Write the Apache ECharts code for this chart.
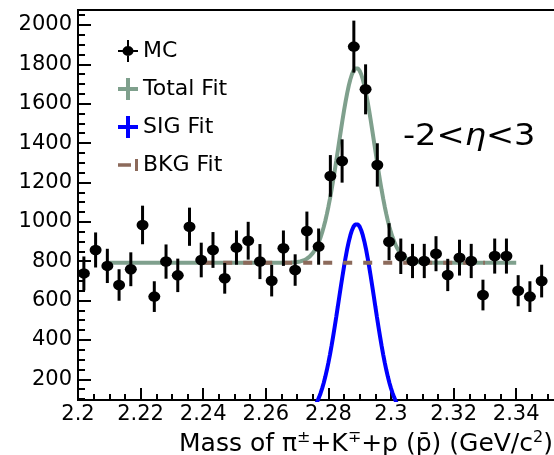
<!DOCTYPE html>
<html>
<head>
<meta charset="utf-8">
<script src="https://cdn.jsdelivr.net/npm/echarts@6/dist/echarts.min.js"></script>
<style>
  html, body { margin: 0; padding: 0; background: #fff; }
  #chart { width: 554px; height: 455px; }
</style>
</head>
<body>
<div id="chart"></div>
<script>
// Histogram bin centres (GeV/c^2), 40 bins of 3.75 MeV from 2.20 to 2.35
const binCentres = [
  2.201875, 2.205625, 2.209375, 2.213125, 2.216875, 2.220625, 2.224375, 2.228125,
  2.231875, 2.235625, 2.239375, 2.243125, 2.246875, 2.250625, 2.254375, 2.258125,
  2.261875, 2.265625, 2.269375, 2.273125, 2.276875, 2.280625, 2.284375, 2.288125,
  2.291875, 2.295625, 2.299375, 2.303125, 2.306875, 2.310625, 2.314375, 2.318125,
  2.321875, 2.325625, 2.329375, 2.333125, 2.336875, 2.340625, 2.344375, 2.348125
];
// MC candidate counts per bin
const counts = [
  738, 857, 776, 679, 759, 984, 620, 798, 728, 975,
  806, 857, 713, 869, 904, 798, 701, 866, 755, 953,
  874, 1233, 1309, 1890, 1673, 1289, 899, 825, 801, 801,
  838, 730, 818, 801, 628, 826, 826, 650, 620, 699
];
// Statistical uncertainty per bin
const countErrors = [
  86, 89, 87, 80, 86, 98, 78, 87, 85, 97,
  88, 91, 78, 87, 96, 89, 80, 90, 80, 99,
  92, 106, 110, 132, 127, 110, 94, 90, 87, 87,
  89, 82, 91, 87, 78, 89, 89, 79, 78, 83
];

// Fit result: Gaussian signal on a flat background
const fitRange = [2.21, 2.34];
const bkgRange = [2.24, 2.33];
const bkgLevel = 792;
const sigAmplitude = 990;
const sigMean = 2.289;
const sigWidth = 0.0057;

// Axis ticks
const xTicks = [2.2, 2.22, 2.24, 2.26, 2.28, 2.3, 2.32, 2.34];
const xTickLabels = ['2.2', '2.22', '2.24', '2.26', '2.28', '2.3', '2.32', '2.34'];
const yTicks = [200, 400, 600, 800, 1000, 1200, 1400, 1600, 1800, 2000];
const yTickLabels = ['200', '400', '600', '800', '1000', '1200', '1400', '1600', '1800', '2000'];

const xMin = 2.2, xMax = 2.35271;
const yMin = 94.8, yMax = 2076;

const xMinorTicks = [];
for (let k = 0; k <= 30; k++) xMinorTicks.push(+(2.2 + 0.005 * k).toFixed(3));
const yMinorTicks = [];
for (let v = 100; v <= 2050; v += 50) yMinorTicks.push(v);

const FONT = 'DejaVu Sans';
const GREEN = '#7fa08d';
const BLUE = '#0000ff';
const BROWN = '#8c6a5b';

function gauss(x) {
  const d = (x - sigMean) / sigWidth;
  return sigAmplitude * Math.exp(-0.5 * d * d);
}
// Sample fitted functions across the fit window
const totalCurve = [], sigCurve = [];
for (let i = 0; i <= 260; i++) {
  const x = fitRange[0] + (fitRange[1] - fitRange[0]) * i / 260;
  totalCurve.push([x, bkgLevel + gauss(x)]);
  sigCurve.push([x, gauss(x)]);
}
const bkgCurve = [[bkgRange[0], bkgLevel], [bkgRange[1], bkgLevel]];

const mcPoints = binCentres.map((x, i) => [x, counts[i]]);
const mcErrors = binCentres.map((x, i) => [x, counts[i] - countErrors[i], counts[i] + countErrors[i]]);

function labelFor(ticks, labels) {
  return v => {
    const i = ticks.findIndex(t => Math.abs(t - v) < 1e-6);
    return i >= 0 ? labels[i] : '';
  };
}

// Legend icons (drawn in a 20 x 22 box)
const corners = ' M0,0h0.01v0.01h-0.01z M19.99,21.99h0.01v0.01h-0.01z';
const iconMC = 'path://M0,10h20v2h-20z M9,0h2v22h-2z M4.5,11a5.5,5 0 1,1 11,0a5.5,5 0 1,1 -11,0z' + corners;
const iconFit = 'path://M0,9h20v4h-20z M8,0h4v22h-4z' + corners;
const iconBkg = 'path://M0,9.3h13v3.5h-13z M17,5h3v12h-3z' + corners;

const chart = echarts.init(document.getElementById('chart'), null, { renderer: 'canvas' });

const baseTick = { lineStyle: { color: '#000', width: 2 } };

chart.setOption({
  animation: false,
  backgroundColor: '#fff',
  grid: {
    left: 78, right: -2, top: 10, bottom: 55,
    outerBoundsMode: 'none',
    containLabel: false,
    show: true, borderColor: '#000', borderWidth: 2, backgroundColor: 'transparent'
  },
  xAxis: [
    {
      type: 'value', min: xMin, max: xMax, position: 'bottom',
      axisLine: { show: true, onZero: false, lineStyle: { color: '#000', width: 2 } },
      axisTick: Object.assign({ inside: true, length: 12, customValues: xTicks }, baseTick),
      axisLabel: {
        customValues: xTicks, formatter: labelFor(xTicks, xTickLabels),
        fontFamily: FONT, fontSize: 21, color: '#000', margin: 4
      },
      splitLine: { show: false },
      name: 'Mass of π{sup|±}+K{sup|∓}+p (p̄) (GeV/c{sup|2})',
      nameLocation: 'middle',
      nameGap: 27,
      nameTextStyle: {
        fontFamily: FONT, fontSize: 25, color: '#000', padding: [0, 0, 0, 98],
        lineHeight: 30,
        rich: {
          sup: { fontFamily: FONT, fontSize: 16, color: '#000', verticalAlign: 'top', lineHeight: 16 }
        }
      }
    },
    {
      type: 'value', min: xMin, max: xMax, position: 'bottom',
      axisLine: { show: false },
      axisTick: Object.assign({ inside: true, length: 6, customValues: xMinorTicks }, baseTick),
      axisLabel: { show: false },
      splitLine: { show: false }
    }
  ],
  yAxis: [
    {
      type: 'value', min: yMin, max: yMax, position: 'left',
      axisLine: { show: true, onZero: false, lineStyle: { color: '#000', width: 2 } },
      axisTick: Object.assign({ inside: true, length: 13, customValues: yTicks }, baseTick),
      axisLabel: {
        customValues: yTicks, formatter: labelFor(yTicks, yTickLabels),
        fontFamily: FONT, fontSize: 21, color: '#000', margin: 6
      },
      splitLine: { show: false }
    },
    {
      type: 'value', min: yMin, max: yMax, position: 'left',
      axisLine: { show: false },
      axisTick: Object.assign({ inside: true, length: 7, customValues: yMinorTicks }, baseTick),
      axisLabel: { show: false },
      splitLine: { show: false }
    }
  ],
  legend: {
    orient: 'vertical', left: 118, top: 40, padding: 0,
    itemWidth: 20, itemHeight: 22, itemGap: 16,
    selectedMode: false,
    textStyle: { fontFamily: FONT, fontSize: 22, color: '#000' },
    itemStyle: { borderWidth: 0 },
    data: [
      { name: 'MC', icon: iconMC, itemStyle: { color: '#000' } },
      { name: 'Total Fit', icon: iconFit, itemStyle: { color: GREEN } },
      { name: 'SIG Fit', icon: iconFit, itemStyle: { color: BLUE } },
      { name: 'BKG Fit', icon: iconBkg, itemStyle: { color: BROWN } }
    ]
  },
  graphic: [
    {
      type: 'text', x: 403, y: 137, scaleX: 1.12, z: 10,
      style: {
        text: '-2<{e|η}<3',
        fontFamily: FONT, fontSize: 30, fill: '#000',
        textAlign: 'left', textVerticalAlign: 'middle',
        rich: { e: { fontFamily: FONT, fontSize: 30, fontStyle: 'italic', fill: '#000' } }
      }
    }
  ],
  series: [
    {
      name: 'Total Fit', type: 'line', data: totalCurve, showSymbol: false, symbol: 'none',
      color: GREEN, lineStyle: { color: GREEN, width: 4 }, z: 2, clip: true
    },
    {
      name: 'SIG Fit', type: 'line', data: sigCurve, showSymbol: false, symbol: 'none',
      color: BLUE, lineStyle: { color: BLUE, width: 4 }, z: 2, clip: true
    },
    {
      name: 'BKG Fit', type: 'line', data: bkgCurve, showSymbol: false, symbol: 'none',
      color: BROWN, lineStyle: { color: BROWN, width: 4, type: [9, 11] }, z: 3, clip: true
    },
    {
      name: 'MC errors', type: 'custom', data: mcErrors, z: 4, clip: true,
      renderItem: (params, api) => {
        const a = api.coord([api.value(0), api.value(1)]);
        const b = api.coord([api.value(0), api.value(2)]);
        return {
          type: 'line',
          shape: { x1: a[0], y1: a[1], x2: b[0], y2: b[1] },
          style: { stroke: '#000', lineWidth: 3 }
        };
      }
    },
    {
      name: 'MC', type: 'scatter', data: mcPoints, symbol: 'circle', symbolSize: [12, 10.5],
      color: '#000', itemStyle: { color: '#000', opacity: 1 }, z: 5
    }
  ]
});
</script>
</body>
</html>
